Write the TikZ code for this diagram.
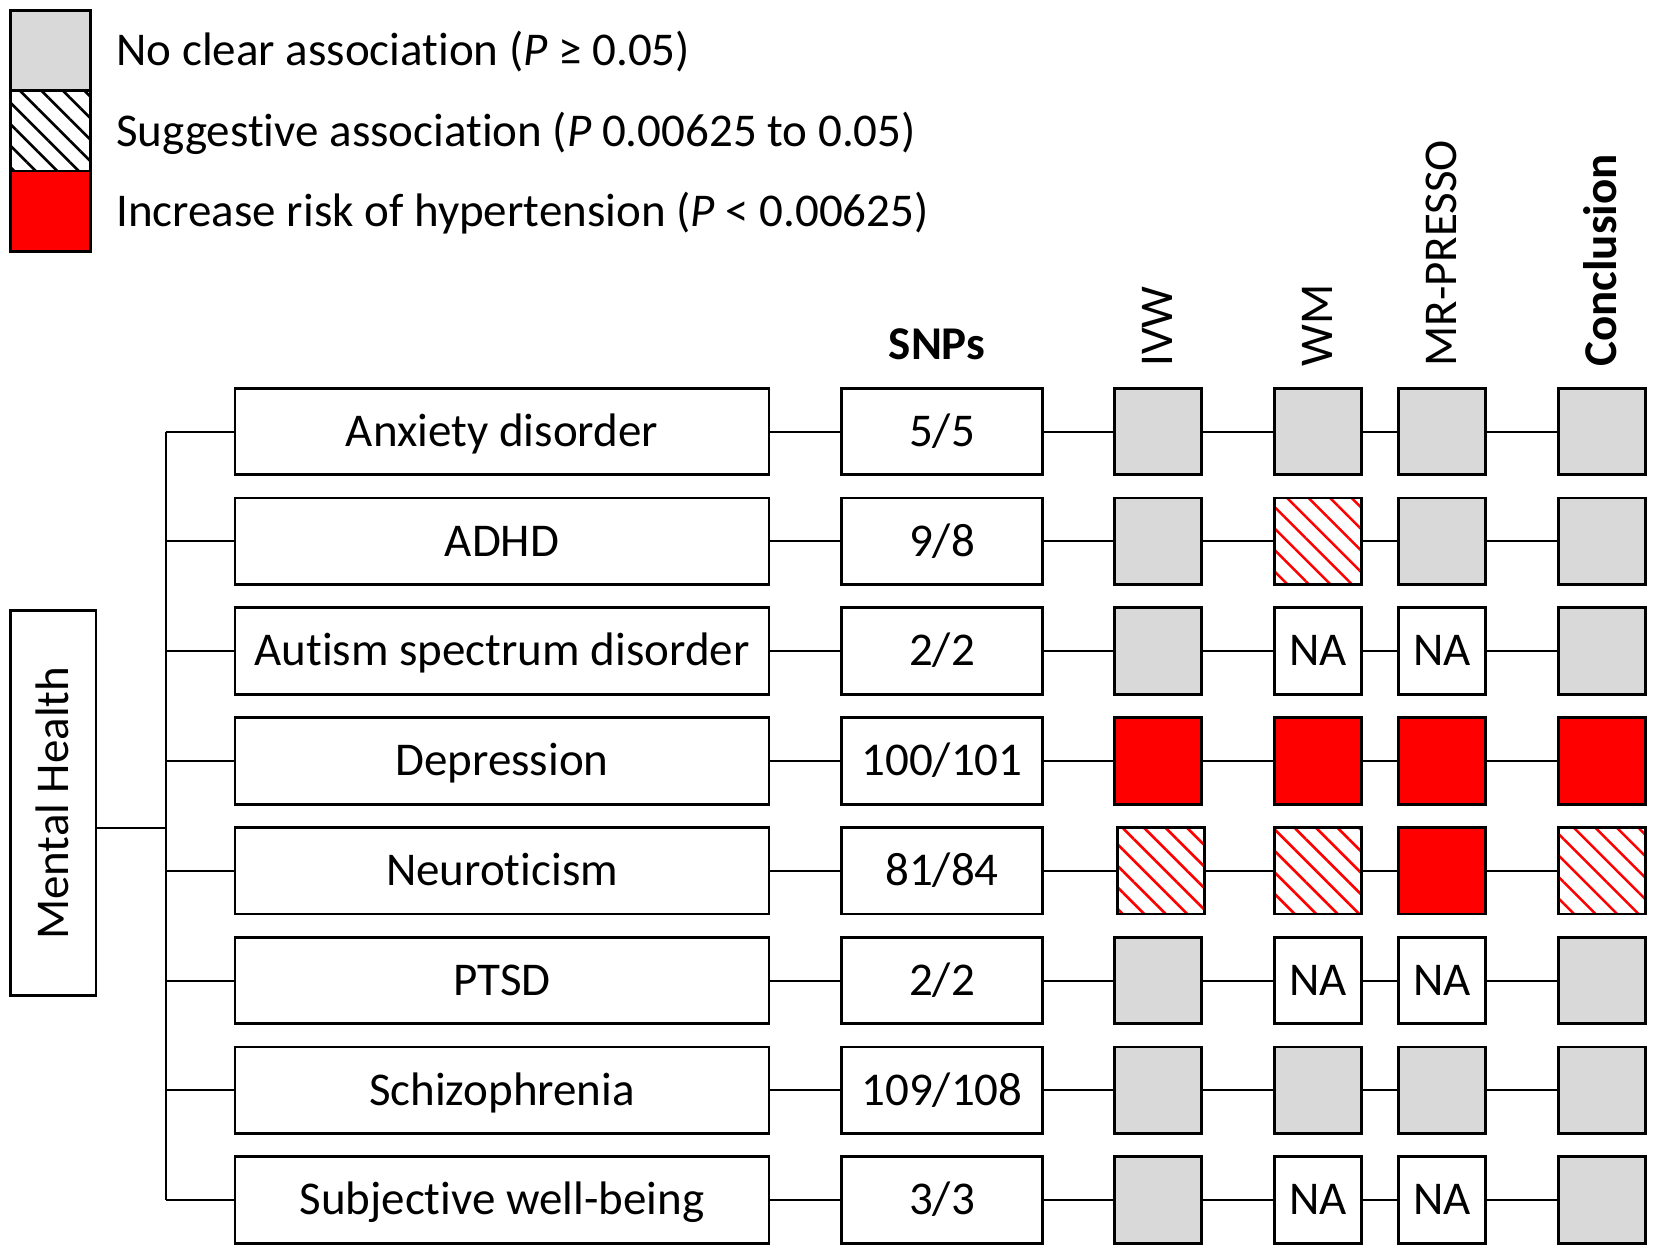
\documentclass[tikz,border=0pt]{standalone}
\usepackage{fontspec}
\setmainfont{Carlito}[Ligatures=NoCommon]
\usetikzlibrary{patterns.meta}
\definecolor{nsgray}{HTML}{D9D9D9}

\begin{document}
\begin{tikzpicture}[x=0.5pt, y=-0.5pt, font=\fontsize{23.5}{28}\selectfont,
    every node/.style={text height=14.85pt, text depth=0pt},
    box/.style={draw, line width=1.4pt, inner sep=0pt},
    dis/.style={box, minimum width=267pt, minimum height=43.25pt},
    snp/.style={box, minimum width=100.2pt, minimum height=43.25pt},
    cell/.style={box, minimum width=43.25pt, minimum height=43.25pt},
    nonsig/.style={cell, fill=nsgray},
    sugg/.style={cell, pattern={Lines[angle=-45, distance=7.6pt, line width=1.3pt]}, pattern color=red},
    risk/.style={cell, fill=red},
    na/.style={cell, fill=white},
    key/.style={box, minimum width=40pt, minimum height=40.1pt},
    keytext/.style={anchor=west, inner sep=0pt},
    head/.style={rotate=90, anchor=west, inner sep=0pt},
    link/.style={line width=1pt}]

\useasboundingbox (0,0) rectangle (1654,1253);

% Legend
\node [key, fill=nsgray] (kgray)  at (50.6,50.6)  {};
\node [key, pattern={Lines[angle=-45, distance=7.6pt, line width=1.3pt]}, pattern color=black] (khatch) at (50.6,130.8) {};
\node [key, fill=red]    (kred)   at (50.6,211)   {};
\node [keytext] (tgray)  at (116,50.6)  {No clear association (\textit{P} ≥ 0.05)};
\node [keytext] (thatch) at (116,131.5) {Suggestive association (\textit{P} 0.00625 to 0.05)};
\node [keytext] (tred)   at (116,211.5) {Increase risk of hypertension (\textit{P} < 0.00625)};

% Column heads
\node [font=\fontsize{23.5}{28}\selectfont\bfseries] (hsnp) at (937,345) {SNPs};
\node [head] (hivw) at (1158,367) {IVW};
\node [head] (hwm)  at (1318,367) {WM};
\node [head] (hmr)  at (1442,367) {MR-PRESSO};
\node [head, font=\fontsize{23.5}{28}\selectfont\bfseries] (hcon) at (1602,367) {Conclusion};

% Mental health and trunk
\node [box, rotate=90, minimum width=192.5pt, minimum height=42.7pt] (mh) at (53.3,803.3) {Mental Health};
\coordinate (hub) at (165.6,828);

% Anxiety disorder
\node [dis]    (d1)   at (502,431.5)  {Anxiety disorder};
\node [snp]    (s1)   at (942,431.5)  {5/5};
\node [nonsig] (ivw1) at (1158,431.5) {};
\node [nonsig] (wm1)  at (1318,431.5) {};
\node [nonsig] (mr1)  at (1442,431.5) {};
\node [nonsig] (con1) at (1602,431.5) {};
\draw [link] (d1) -- (s1) -- (ivw1) -- (wm1) -- (mr1) -- (con1);

% ADHD
\node [dis]    (d2)   at (502,541.3)  {ADHD};
\node [snp]    (s2)   at (942,541.3)  {9/8};
\node [nonsig] (ivw2) at (1158,541.3) {};
\node [sugg]   (wm2)  at (1318,541.3) {};
\node [nonsig] (mr2)  at (1442,541.3) {};
\node [nonsig] (con2) at (1602,541.3) {};
\draw [link] (d2) -- (s2) -- (ivw2) -- (wm2) -- (mr2) -- (con2);

% Autism spectrum disorder
\node [dis]    (d3)   at (502,651.1)  {Autism spectrum disorder};
\node [snp]    (s3)   at (942,651.1)  {2/2};
\node [nonsig] (ivw3) at (1158,651.1) {};
\node [na]     (wm3)  at (1318,651.1) {NA};
\node [na]     (mr3)  at (1442,651.1) {NA};
\node [nonsig] (con3) at (1602,651.1) {};
\draw [link] (d3) -- (s3) -- (ivw3) -- (wm3) -- (mr3) -- (con3);

% Depression
\node [dis]    (d4)   at (502,760.9)  {Depression};
\node [snp]    (s4)   at (942,760.9)  {100/101};
\node [risk]   (ivw4) at (1158,760.9) {};
\node [risk]   (wm4)  at (1318,760.9) {};
\node [risk]   (mr4)  at (1442,760.9) {};
\node [risk]   (con4) at (1602,760.9) {};
\draw [link] (d4) -- (s4) -- (ivw4) -- (wm4) -- (mr4) -- (con4);

% Neuroticism
\node [dis]    (d5)   at (502,870.7)  {Neuroticism};
\node [snp]    (s5)   at (942,870.7)  {81/84};
\node [sugg]   (ivw5) at (1161,870.7) {};
\node [sugg]   (wm5)  at (1318,870.7) {};
\node [risk]   (mr5)  at (1442,870.7) {};
\node [sugg]   (con5) at (1602,870.7) {};
\draw [link] (d5) -- (s5) -- (ivw5) -- (wm5) -- (mr5) -- (con5);

% PTSD
\node [dis]    (d6)   at (502,980.5)  {PTSD};
\node [snp]    (s6)   at (942,980.5)  {2/2};
\node [nonsig] (ivw6) at (1158,980.5) {};
\node [na]     (wm6)  at (1318,980.5) {NA};
\node [na]     (mr6)  at (1442,980.5) {NA};
\node [nonsig] (con6) at (1602,980.5) {};
\draw [link] (d6) -- (s6) -- (ivw6) -- (wm6) -- (mr6) -- (con6);

% Schizophrenia
\node [dis]    (d7)   at (502,1090.3)  {Schizophrenia};
\node [snp]    (s7)   at (942,1090.3)  {109/108};
\node [nonsig] (ivw7) at (1158,1090.3) {};
\node [nonsig] (wm7)  at (1318,1090.3) {};
\node [nonsig] (mr7)  at (1442,1090.3) {};
\node [nonsig] (con7) at (1602,1090.3) {};
\draw [link] (d7) -- (s7) -- (ivw7) -- (wm7) -- (mr7) -- (con7);

% Subjective well-being
\node [dis]    (d8)   at (502,1200.1)  {Subjective well-being};
\node [snp]    (s8)   at (942,1200.1)  {3/3};
\node [nonsig] (ivw8) at (1158,1200.1) {};
\node [na]     (wm8)  at (1318,1200.1) {NA};
\node [na]     (mr8)  at (1442,1200.1) {NA};
\node [nonsig] (con8) at (1602,1200.1) {};
\draw [link] (d8) -- (s8) -- (ivw8) -- (wm8) -- (mr8) -- (con8);

% Tree
\draw [link] (mh.south |- hub) -- (hub);
\draw [link] (hub |- d1) -- (hub |- d8);
\draw [link] (hub |- d1) -- (d1);
\draw [link] (hub |- d2) -- (d2);
\draw [link] (hub |- d3) -- (d3);
\draw [link] (hub |- d4) -- (d4);
\draw [link] (hub |- d5) -- (d5);
\draw [link] (hub |- d6) -- (d6);
\draw [link] (hub |- d7) -- (d7);
\draw [link] (hub |- d8) -- (d8);

\end{tikzpicture}
\end{document}
